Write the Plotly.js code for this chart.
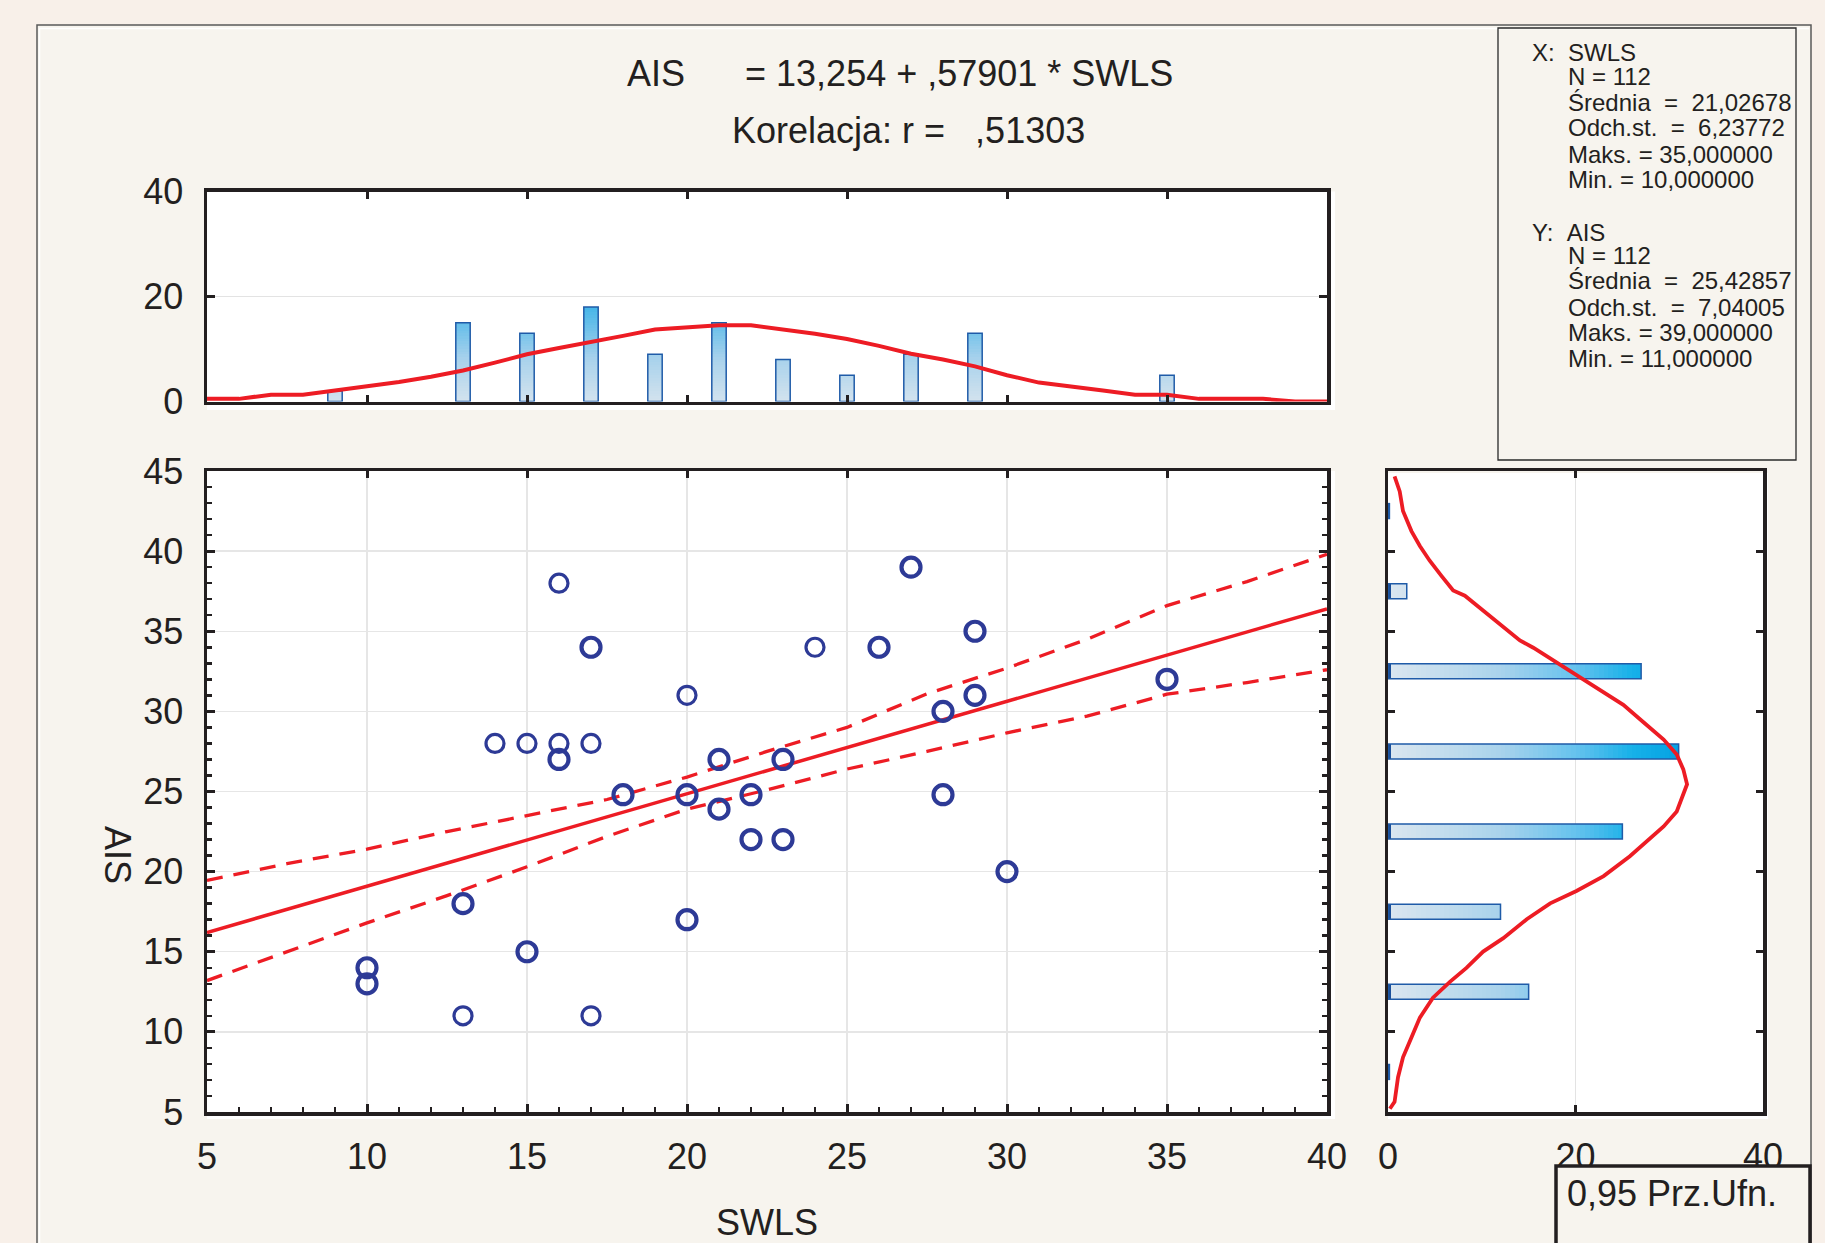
<!DOCTYPE html>
<html>
<head>
<meta charset="utf-8">
<script src="https://cdn.plot.ly/plotly-3.0.1.min.js"></script>
<style>
html,body{margin:0;padding:0;background:#F8F0E9;}
#chart{width:1825px;height:1243px;}
</style>
</head>
<body>
<div id="chart"></div>
<script>
// ---------------- DATA ----------------
// Top histogram: SWLS
const swlsBins   = [9, 13, 15, 17, 19, 21, 23, 25, 27, 29, 35];
const swlsCounts = [2, 15, 13, 18, 9, 15, 8, 5, 9, 13, 5];
// Normal curve over the SWLS histogram
const swlsCurveX = [5,6,7,8,9,10,11,12,13,14,15,16,17,18,19,20,21,22,23,24,25,26,27,28,29,30,31,32,33,34,35,36,37,38,39,40];
const swlsCurveY = [0.5,0.5,1.3,1.3,2.1,2.9,3.7,4.7,5.9,7.4,9.0,10.2,11.3,12.5,13.7,14.1,14.5,14.5,13.7,12.9,11.9,10.6,9.1,8.0,6.7,5.0,3.6,2.9,2.1,1.3,1.3,0.5,0.5,0.5,0,0];

// Side histogram: AIS
const aisBins   = [7.5, 12.5, 17.5, 22.5, 27.5, 32.5, 37.5, 42.5];
const aisCounts = [0.15, 15, 12, 25, 31, 27, 2, 0.15];
// Normal curve over the AIS histogram
const aisCurveCount = [0.7,1.25,1.6,2.5,3.4,4.45,5.7,6.95,8.2,10.15,12.3,14.07,15.5,17.6,20.1,22.6,25.1,27.25,29.4,30.8,31.5,31.9,31.3,30.8,29.4,27.96,25.8,23.0,20.1,17.3,14.8,12.3,10.15,8.37,6.6,4.8,3.4,2.5,1.6,1.07,0.7,0.2];
const aisCurveAis   = [44.66,43.73,42.5,41.25,40.32,39.4,38.46,37.54,37.22,36.29,35.21,34.43,33.97,33.2,32.27,31.34,30.41,29.32,28.24,27.31,26.38,25.45,24.52,23.75,22.82,22.05,20.96,19.72,18.79,18.02,17.03,15.85,15.01,13.99,13.12,12.13,10.89,9.65,8.41,7.17,5.63,5.2];

// Scatter points: single observations (thin circles)
const singleSwls = [16, 24, 14, 15, 16, 17, 13, 17, 20];
const singleAis  = [38, 34, 28, 28, 28, 28, 11, 11, 31];
// Scatter points: repeated observations (bold circles)
const multiSwls = [17, 26, 16, 18, 20, 21, 21, 22, 23, 22, 23, 13, 20, 15, 10, 10, 27, 29, 29, 28, 28, 30, 35];
const multiAis  = [34, 34, 27, 24.8, 24.8, 27, 23.9, 24.8, 27, 22, 22, 18, 17, 15, 14, 13, 39, 35, 31, 30, 24.8, 20, 32];

// Regression line (end points) and 0.95 confidence band
const regX = [5, 40];
const regY = [16.2, 36.4];
const bandX     = [5, 7.5, 10, 12.5, 15, 17.5, 20, 22.5, 25, 27.5, 30, 32.5, 35, 37.5, 40];
const bandUpper = [19.45, 20.5, 21.4, 22.5, 23.5, 24.5, 25.9, 27.5, 29.0, 31.1, 32.7, 34.5, 36.6, 38.1, 39.8];
const bandLower = [13.2, 15.0, 16.8, 18.5, 20.3, 22.2, 23.9, 25.1, 26.4, 27.5, 28.66, 29.7, 31.07, 31.8, 32.6];

// Tick labels
const scatterXTicks = [5,10,15,20,25,30,35,40];
const topHistYTicks = [0,20,40];
const sideHistXTicks = [0,20,40];

// Stats texts
const statsX = ['N = 112', 'Średnia  =  21,02678', 'Odch.st.  =  6,23772', 'Maks. = 35,000000', 'Min. = 10,000000'];
const statsY = ['N = 112', 'Średnia  =  25,42857', 'Odch.st.  =  7,04005', 'Maks. = 39,000000', 'Min. = 11,000000'];

// ---------------- helpers ----------------
const W = 1825, H = 1243;
const fx = x => x / W;
const fy = y => 1 - y / H;
const FONT = 'Liberation Sans, Arial, Helvetica, sans-serif';
const INK = '#231F20';
const RED = '#ED1C24';
const NAVY = '#2D3A96';

function hex2rgb(h){ h=h.replace('#',''); return [parseInt(h.substr(0,2),16),parseInt(h.substr(2,2),16),parseInt(h.substr(4,2),16)]; }
function grad(stops, v){
  if (v <= stops[0][0]) return stops[0][1];
  for (let i=1;i<stops.length;i++){
    if (v <= stops[i][0]) {
      const t = (v - stops[i-1][0])/(stops[i][0]-stops[i-1][0]);
      const a = hex2rgb(stops[i-1][1]), b = hex2rgb(stops[i][1]);
      const c = a.map((ai,j)=>Math.round(ai + (b[j]-ai)*t));
      return 'rgb('+c.join(',')+')';
    }
  }
  return stops[stops.length-1][1];
}
const topStops  = [[0,'#D3E3EE'],[8,'#A9D2EC'],[18,'#45B5E8']];
const sideStops = [[0,'#DBE6EF'],[12,'#A9D3EC'],[20,'#66C2EE'],[26,'#17B1E9'],[32,'#009FE1']];

const traces = [];

// ---- top histogram: gradient segments ----
const step = 0.5;
const topMax = Math.max(...swlsCounts);
for (let k = 0; k < topMax; k += step) {
  traces.push({
    type:'bar', x: swlsBins, y: swlsCounts.map(c => Math.max(0, Math.min(step, c - k))),
    base: k, width: 0.45, xaxis:'x2', yaxis:'y2',
    marker:{color: grad(topStops, k + step/2), line:{width:0}},
    hoverinfo:'skip', showlegend:false
  });
}
traces.push({
  type:'bar', x: swlsBins, y: swlsCounts, width:0.45, xaxis:'x2', yaxis:'y2',
  marker:{color:'rgba(0,0,0,0)', line:{color:'#1F5BA8', width:1.5}},
  hoverinfo:'skip', showlegend:false
});
traces.push({
  type:'scatter', mode:'lines', x: swlsCurveX, y: swlsCurveY, xaxis:'x2', yaxis:'y2',
  line:{color:RED, width:4}, hoverinfo:'skip', showlegend:false
});

// ---- side histogram: gradient segments ----
const sideMax = Math.max(...aisCounts);
for (let k = 0; k < sideMax; k += step) {
  traces.push({
    type:'bar', orientation:'h', y: aisBins, x: aisCounts.map(c => Math.max(0, Math.min(step, c - k))),
    base: k, width: 0.93, xaxis:'x3', yaxis:'y3',
    marker:{color: grad(sideStops, k + step/2), line:{width:0}},
    hoverinfo:'skip', showlegend:false
  });
}
traces.push({
  type:'bar', orientation:'h', y: aisBins, x: aisCounts.map(c => Math.min(c, 0.35)), width:0.93,
  xaxis:'x3', yaxis:'y3', marker:{color:'#1A4F9A', line:{width:0}}, hoverinfo:'skip', showlegend:false
});
traces.push({
  type:'bar', orientation:'h', y: aisBins, x: aisCounts, width:0.93, xaxis:'x3', yaxis:'y3',
  marker:{color:'rgba(0,0,0,0)', line:{color:'#1F5BA8', width:1.5}},
  hoverinfo:'skip', showlegend:false
});
traces.push({
  type:'scatter', mode:'lines', x: aisCurveCount, y: aisCurveAis, xaxis:'x3', yaxis:'y3',
  line:{color:RED, width:3.8}, hoverinfo:'skip', showlegend:false
});

// ---- scatter ----
traces.push({type:'scatter', mode:'lines', x: bandX, y: bandUpper, xaxis:'x', yaxis:'y',
  line:{color:RED, width:3.3, dash:'16px,11px'}, hoverinfo:'skip', showlegend:false});
traces.push({type:'scatter', mode:'lines', x: bandX, y: bandLower, xaxis:'x', yaxis:'y',
  line:{color:RED, width:3.3, dash:'16px,11px'}, hoverinfo:'skip', showlegend:false});
traces.push({type:'scatter', mode:'lines', x: regX, y: regY, xaxis:'x', yaxis:'y',
  line:{color:RED, width:3.5}, hoverinfo:'skip', showlegend:false});
traces.push({type:'scatter', mode:'markers', x: singleSwls, y: singleAis, xaxis:'x', yaxis:'y',
  marker:{symbol:'circle-open', size:18, color:NAVY, line:{color:NAVY, width:3.2}}, showlegend:false});
traces.push({type:'scatter', mode:'markers', x: multiSwls, y: multiAis, xaxis:'x', yaxis:'y',
  marker:{symbol:'circle-open', size:19, color:NAVY, line:{color:NAVY, width:4.2}}, showlegend:false});
// carrier for the top tick axis of the scatter
traces.push({type:'scatter', mode:'markers', x: [], y: [], xaxis:'x4', yaxis:'y', showlegend:false, hoverinfo:'skip'});

// ---------------- layout ----------------
const tickFont = {family:FONT, size:36, color:INK};
const frame = {showline:true, linewidth:3.5, linecolor:INK, zeroline:false, fixedrange:true};
const scX = [fx(207), fx(1327)];
const scY = [fy(1112), fy(471)];

const annotations = [
  {text:'AIS\u00a0\u00a0\u00a0\u00a0\u00a0 = 13,254 + ,57901 * SWLS', x: fx(900), y: fy(74), xref:'paper', yref:'paper',
   xanchor:'center', yanchor:'middle', showarrow:false, font:{family:FONT, size:36, color:INK}},
  {text:'Korelacja: r =\u00a0\u00a0\u00a0,51303', x: fx(908), y: fy(131), xref:'paper', yref:'paper',
   xanchor:'center', yanchor:'middle', showarrow:false, font:{family:FONT, size:36, color:INK}},
  {text:'AIS', textangle:90, x: fx(118), y: fy(855), xref:'paper', yref:'paper',
   xanchor:'center', yanchor:'middle', showarrow:false, font:{family:FONT, size:36, color:INK}},
  {text:'0,95 Prz.Ufn.', x: fx(1565), y: fy(1193), xref:'paper', yref:'paper',
   xanchor:'left', yanchor:'middle', showarrow:false, font:{family:FONT, size:36, color:INK}},
  {text:'X:\u00a0\u00a0SWLS', x: fx(1530), y: fy(53), xref:'paper', yref:'paper',
   xanchor:'left', yanchor:'middle', showarrow:false, font:{family:FONT, size:24, color:INK}},
  {text:'Y:\u00a0\u00a0AIS', x: fx(1530), y: fy(232), xref:'paper', yref:'paper',
   xanchor:'left', yanchor:'middle', showarrow:false, font:{family:FONT, size:24, color:INK}}
];
const rowsX = [77, 102, 127, 155, 179];
const rowsY = [256, 280, 308, 333, 358];
statsX.forEach((t,i)=>annotations.push({text:t.replace(/ /g,'\u00a0'), x: fx(1566), y: fy(rowsX[i]), xref:'paper', yref:'paper',
  xanchor:'left', yanchor:'middle', showarrow:false, font:{family:FONT, size:24, color:INK}}));
statsY.forEach((t,i)=>annotations.push({text:t.replace(/ /g,'\u00a0'), x: fx(1566), y: fy(rowsY[i]), xref:'paper', yref:'paper',
  xanchor:'left', yanchor:'middle', showarrow:false, font:{family:FONT, size:24, color:INK}}));

const shapes = [
  // outer frame with inner background
  {type:'rect', layer:'below', xref:'paper', yref:'paper', x0: fx(37), x1: fx(1811), y0: fy(25), y1: fy(1270),
   fillcolor:'#F7F4EE', line:{color:'#5A5A5A', width:1.5}},
  {type:'line', layer:'below', xref:'paper', yref:'paper', x0: fx(39), x1: fx(1809), y0: fy(28.5), y1: fy(28.5), line:{color:'#FFFFFF', width:1.5}},
  {type:'line', layer:'below', xref:'paper', yref:'paper', x0: fx(39.5), x1: fx(39.5), y0: fy(28.5), y1: fy(1270), line:{color:'#FFFFFF', width:1.5}},
  // stats box
  {type:'rect', layer:'below', xref:'paper', yref:'paper', x0: fx(1498), x1: fx(1796), y0: fy(28), y1: fy(460),
   fillcolor:'rgba(0,0,0,0)', line:{color:'#2A2A2A', width:1.3}},
  // white plot backings
  {type:'rect', layer:'below', xref:'paper', yref:'paper', x0: fx(207), x1: fx(1335), y0: fy(471), y1: fy(1119), fillcolor:'#FFFFFF', line:{width:0}},
  {type:'rect', layer:'below', xref:'paper', yref:'paper', x0: fx(207), x1: fx(1335), y0: fy(191.5), y1: fy(410), fillcolor:'#FFFFFF', line:{width:0}},
  {type:'rect', layer:'below', xref:'paper', yref:'paper', x0: fx(1388), x1: fx(1768), y0: fy(473), y1: fy(1119), fillcolor:'#FFFFFF', line:{width:0}},
  // legend box (covers lower part of tick labels)
  {type:'rect', layer:'above', xref:'paper', yref:'paper', x0: fx(1556), x1: fx(1810), y0: fy(1166), y1: fy(1275),
   fillcolor:'#F7F4EE', line:{color:INK, width:3.5}}
];

const layout = {
  width: W, height: H,
  margin:{l:0, r:0, t:0, b:0, pad:0},
  paper_bgcolor:'#F8F0E9', plot_bgcolor:'#FFFFFF',
  barmode:'overlay', bargap:0,
  showlegend:false,
  font:{family:FONT, color:INK},
  // scatter
  xaxis: Object.assign({}, frame, {
    domain: scX, anchor:'y', range:[5,40], tickmode:'array', tickvals: scatterXTicks,
    ticks:'inside', ticklen:8, tickwidth:3, tickcolor:INK, mirror:true,
    showgrid:true, gridcolor:'#E6E6E6', gridwidth:1.3,
    tickfont: tickFont, ticklabelstandoff: 10,
    minor:{tickmode:'linear', tick0:5, dtick:1, ticks:'inside', ticklen:5, tickwidth:2.5, tickcolor:INK, showgrid:false},
    title:{text:'SWLS', font:{family:FONT, size:36, color:INK}, standoff: 42}
  }),
  xaxis4: {overlaying:'x', anchor:'y', side:'top', range:[5,40], tickmode:'array', tickvals: scatterXTicks,
    ticks:'inside', ticklen:7, tickwidth:3, tickcolor:INK, showticklabels:false, showline:false, showgrid:false, zeroline:false, fixedrange:true},
  yaxis: Object.assign({}, frame, {
    domain: scY, anchor:'x', range:[5,45], tickmode:'linear', tick0:5, dtick:5,
    ticks:'inside', ticklen:8, tickwidth:3, tickcolor:INK, mirror:'ticks',
    showgrid:true, gridcolor:'#E6E6E6', gridwidth:1.3,
    tickfont: tickFont, ticklabelstandoff: 13,
    minor:{tickmode:'linear', tick0:5, dtick:1, ticks:'inside', ticklen:5, tickwidth:2.5, tickcolor:INK, showgrid:false}
  }),
  // top histogram
  xaxis2: Object.assign({}, frame, {
    domain: scX, anchor:'y2', range:[5,40], tickmode:'linear', tick0:5, dtick:5,
    ticks:'inside', ticklen:7, tickwidth:3, tickcolor:INK, mirror:'ticks', showticklabels:false, showgrid:false
  }),
  yaxis2: Object.assign({}, frame, {
    domain:[fy(401.5), fy(191.5)], anchor:'x2', range:[0,40], tickmode:'array', tickvals: topHistYTicks,
    ticks:'inside', ticklen:8, tickwidth:3, tickcolor:INK, mirror:'ticks',
    showgrid:true, gridcolor:'#E3E3E3', gridwidth:1.5, tickfont: tickFont, ticklabelstandoff: 13
  }),
  // side histogram
  xaxis3: Object.assign({}, frame, {
    domain:[fx(1388), fx(1763)], anchor:'y3', range:[0,40], tickmode:'array', tickvals: sideHistXTicks,
    ticks:'inside', ticklen:7, tickwidth:3, tickcolor:INK, mirror:'ticks',
    showgrid:true, gridcolor:'#E3E3E3', gridwidth:1.5, tickfont: tickFont, ticklabelstandoff: 10
  }),
  yaxis3: Object.assign({}, frame, {
    domain: scY, anchor:'x3', range:[5,45], tickmode:'linear', tick0:5, dtick:5,
    ticks:'inside', ticklen:7, tickwidth:3, tickcolor:INK, mirror:'ticks', showticklabels:false, showgrid:false
  }),
  annotations: annotations,
  shapes: shapes
};

Plotly.newPlot('chart', traces, layout, {staticPlot:true, displayModeBar:false});
</script>
</body>
</html>
